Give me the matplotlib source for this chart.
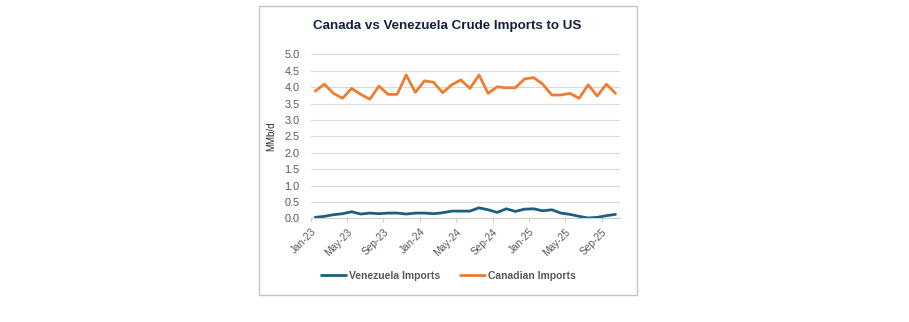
import numpy as np
import matplotlib
matplotlib.use("Agg")
import matplotlib.pyplot as plt
import matplotlib.patches as patches

plt.rcParams['font.family'] = ['Liberation Sans Narrow', 'Liberation Sans', 'DejaVu Sans']

# Monthly crude imports, Jan-23 .. Oct-25 (MMb/d)
months = ['Jan-23', 'Feb-23', 'Mar-23', 'Apr-23', 'May-23', 'Jun-23', 'Jul-23', 'Aug-23',
          'Sep-23', 'Oct-23', 'Nov-23', 'Dec-23', 'Jan-24', 'Feb-24', 'Mar-24', 'Apr-24',
          'May-24', 'Jun-24', 'Jul-24', 'Aug-24', 'Sep-24', 'Oct-24', 'Nov-24', 'Dec-24',
          'Jan-25', 'Feb-25', 'Mar-25', 'Apr-25', 'May-25', 'Jun-25', 'Jul-25', 'Aug-25',
          'Sep-25', 'Oct-25']
venezuela = [0.03, 0.06, 0.11, 0.14, 0.20, 0.13, 0.16, 0.14, 0.16, 0.16, 0.13, 0.16,
             0.16, 0.14, 0.17, 0.22, 0.22, 0.22, 0.32, 0.26, 0.18, 0.29, 0.21, 0.28,
             0.29, 0.23, 0.26, 0.16, 0.12, 0.06, 0.01, 0.03, 0.08, 0.12]
canada = [3.88, 4.09, 3.81, 3.66, 3.96, 3.78, 3.63, 4.03, 3.78, 3.78, 4.37, 3.84,
          4.19, 4.15, 3.83, 4.07, 4.22, 3.96, 4.37, 3.81, 4.01, 3.98, 3.98, 4.25,
          4.29, 4.09, 3.76, 3.76, 3.81, 3.66, 4.07, 3.73, 4.09, 3.81]
tick_labels = months[::4]

fig = plt.figure(figsize=(9.09, 3.22), dpi=100, facecolor='white')

# chart frame
frame = patches.Rectangle((0.2844, 0.0854), 0.4164, 0.8975, transform=fig.transFigure,
                          facecolor='none', edgecolor='#c6c6c6', lw=1.0)
fig.patches.append(frame)

ax = fig.add_axes([0.3418, 0.322, 0.3403, 0.5093])
x = np.arange(len(months))
ax.plot(x, venezuela, color='#1b5e82', lw=2.0, label='Venezuela Imports', solid_capstyle='round')
ax.plot(x, canada, color='#ed7d31', lw=2.0, label='Canadian Imports', solid_capstyle='round')

ax.set_xlim(-0.5, len(months) - 0.5)
ax.set_ylim(0, 5)
ax.set_yticks(np.arange(0, 5.01, 0.5))
ax.set_yticklabels(['%.1f' % v for v in np.arange(0, 5.01, 0.5)])
ax.set_xticks(np.arange(0, len(months), 4) - 0.5)
ax.set_xticklabels(tick_labels, rotation=45, ha='right', rotation_mode='anchor')

ax.grid(axis='y', color='#d9d9d9', lw=0.8)
ax.set_axisbelow(True)
for s in ['top', 'right', 'left']:
    ax.spines[s].set_visible(False)
ax.spines['bottom'].set_color('#d0d0d0')
ax.tick_params(axis='y', length=0, pad=8, labelsize=7.8, labelcolor='#595959')
ax.tick_params(axis='x', length=3, color='#d0d0d0', pad=3, labelsize=7.3, labelcolor='#595959')
ax.set_ylabel('MMb/d', fontsize=7, color='#262626', labelpad=6)

fig.text(0.4923, 0.918, 'Canada vs Venezuela Crude Imports to US', ha='center', va='center',
         fontsize=9.6, fontweight='bold', color='#14213d')

leg = fig.legend(loc='center', bbox_to_anchor=(0.493, 0.143), ncol=2, frameon=False,
                 fontsize=7.5, handlelength=2.4, columnspacing=1.9, handletextpad=0.3)
for t in leg.get_texts():
    t.set_color('#595959')
    t.set_fontweight('bold')

plt.savefig('out.png', dpi=100, facecolor='white')
